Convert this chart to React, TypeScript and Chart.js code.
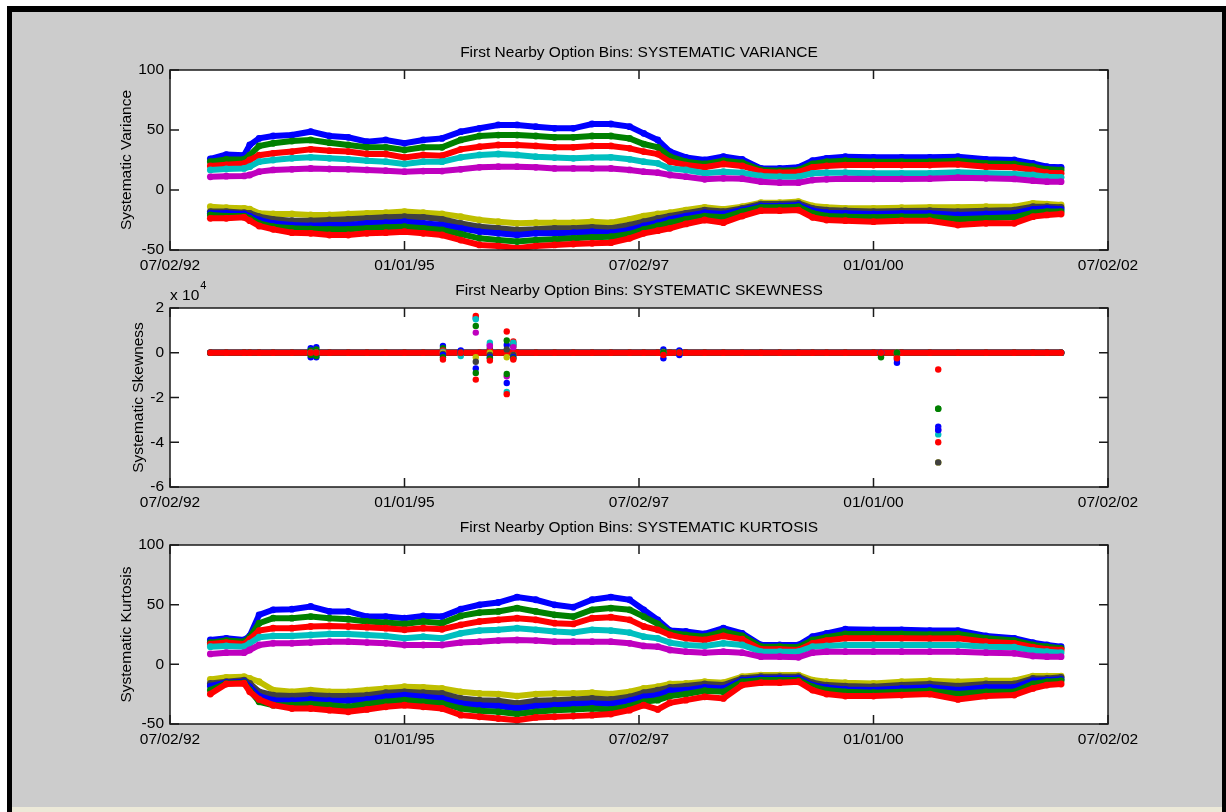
import React, { useEffect, useRef } from 'react';
import { Chart, registerables } from 'chart.js';

Chart.register(...registerables);

// ---------- data (decimal years on x) ----------
const dates = [1992.93, 1993.1, 1993.29, 1993.35, 1993.45, 1993.6, 1993.8, 1994.0, 1994.2, 1994.4, 1994.6, 1994.8, 1995.0, 1995.2, 1995.4, 1995.6, 1995.8, 1996.0, 1996.2, 1996.4, 1996.6, 1996.8, 1997.0, 1997.2, 1997.4, 1997.55, 1997.7, 1997.83, 1998.0, 1998.2, 1998.4, 1998.6, 1998.8, 1999.0, 1999.2, 1999.35, 1999.5, 1999.7, 2000.0, 2000.3, 2000.6, 2000.9, 2001.2, 2001.5, 2001.7, 2001.85, 2002.0];

const xTickValues = [1992.5, 1995, 1997.5, 2000, 2002.5];
const xTickLabels = ['07/02/92', '01/01/95', '07/02/97', '01/01/00', '07/02/02'];

const seriesColors = ['#0000ff', '#008000', '#ff0000', '#00bfbf', '#bf00bf', '#bfbf00', '#404040', '#0000ff', '#008000', '#ff0000'];

// Systematic variance
const varB = [26, 29.5, 29, 37.5, 43, 45, 45.8, 48.6, 45, 43.9, 40.3, 41.7, 38.9, 41.7, 43, 48.6, 51.4, 54.2, 54.2, 52.8, 51.4, 51.4, 55, 55, 52.8, 47.2, 41.7, 32, 27.2, 25, 27.8, 25.6, 18, 18, 18.9, 24.4, 26.4, 27.8, 27.2, 27.2, 27.2, 27.8, 25.6, 25, 22.2, 19.4, 18.9];
const varG = [23.6, 25.5, 25.5, 29, 36.7, 38.9, 40.8, 41.7, 39.4, 37.5, 35.6, 35.6, 33.3, 35.6, 35.6, 41.7, 45, 45.8, 45.8, 45, 43.9, 43.9, 45, 45, 43, 38.3, 35.6, 27.8, 23.6, 21.7, 24.4, 22.8, 16.7, 16.1, 16.7, 21.7, 23.6, 24.4, 23.6, 23.6, 23.6, 24.4, 22.2, 21.7, 19.4, 17.2, 16.7];
const varR = [20, 21, 22, 25, 29, 30.6, 32, 33.9, 32.8, 32, 30, 30, 27.2, 29.2, 28.6, 33.9, 36.1, 37.5, 37.5, 36.7, 35.6, 35.6, 36.7, 36.7, 34.7, 32, 30, 23.6, 20.8, 18.9, 21.7, 20, 15.3, 14.4, 15, 18.9, 20, 20.8, 20.8, 20.8, 20.8, 21.4, 19.4, 18.9, 16.7, 14.4, 13.9];
const varC = [16.7, 17.5, 18, 19.4, 23.6, 25, 26.4, 27.2, 26.4, 25.6, 24.4, 23.6, 21.7, 23.6, 23.6, 27.2, 29.2, 30, 29.2, 27.8, 27, 26.4, 27, 27.2, 25.6, 23.6, 22.2, 18, 16.7, 13.9, 15.3, 14.4, 11.7, 11.1, 11.1, 13.9, 14.4, 14.4, 13.9, 13.9, 13.9, 14.7, 13.9, 13.3, 12.5, 11.1, 10.6];
const varM = [11, 11.5, 11.7, 12.5, 15.3, 16.7, 17.2, 18, 17.5, 17.2, 16.7, 16.1, 15.3, 15.8, 15.8, 17.2, 18.9, 19.4, 19.4, 18.9, 18, 18, 18, 18, 16.7, 15.3, 14.4, 12.5, 11.1, 8.9, 9.7, 9.4, 6.9, 6.1, 6.1, 8.3, 8.9, 9.4, 9.2, 9.2, 9.4, 10.3, 9.7, 9.2, 7.8, 6.9, 6.9];
const varY = [-13.9, -14.7, -15.3, -16, -19.4, -20, -20, -20.8, -20.8, -20, -19.4, -18.9, -18, -18.9, -20, -22.2, -25, -26.4, -27.8, -27.2, -27.2, -27.2, -26.4, -27.2, -24.4, -21.7, -20, -18.9, -16.7, -14.4, -16.1, -13.9, -10.6, -10.6, -9.7, -13.3, -14.4, -15.3, -15.3, -14.7, -14.4, -14.4, -13.9, -13.9, -11.1, -11.7, -12.5];
const varK = [-18, -18, -18.9, -19.4, -22.2, -24.4, -25.6, -25.6, -25, -24.4, -23.6, -22.8, -22.2, -22.8, -24.4, -27.8, -30.6, -31.9, -33.3, -32.8, -31.9, -31.9, -31.1, -31.9, -29.2, -26.4, -23.6, -21.7, -19.4, -16.7, -18, -15.3, -11.7, -11.7, -11.1, -15.3, -16.7, -17.2, -18, -17.5, -17.2, -18, -17.2, -16.7, -13.9, -13.9, -14.4];
const varB2 = [-19.4, -19.4, -20, -21.7, -25, -27.8, -29.2, -29.7, -29.2, -29.2, -27.8, -27.2, -26.4, -27.8, -29.2, -31.9, -34.7, -36.1, -37.5, -36.1, -36.1, -35.6, -34.7, -35.6, -33.3, -30, -27.2, -24.4, -21.7, -18.9, -20, -16.7, -13.3, -13.3, -12.5, -17.2, -18.9, -19.4, -20, -19.4, -19.4, -20.8, -20, -19.4, -16.1, -15.3, -16.1];
const varG2 = [-20.8, -21.7, -21.7, -23.6, -27.8, -30.6, -31.9, -32.5, -32.8, -32.8, -31.9, -31.1, -30.6, -31.9, -33.3, -36.7, -40.3, -41.7, -43, -41.7, -41.1, -40.3, -39.4, -38.9, -36.7, -32.8, -30, -27.2, -24.4, -21.7, -22.8, -18, -14.4, -14.4, -13.9, -19.4, -21.7, -22.2, -22.8, -22.2, -22.2, -24.4, -23.6, -22.8, -18.9, -18, -18];
const varR2 = [-23.6, -23.6, -22.8, -25.6, -30, -32.8, -35.6, -36.1, -37.5, -37.5, -36.1, -35.6, -34.7, -36.1, -37.5, -41.7, -45.8, -46.7, -48.6, -46.7, -45.8, -45, -44.4, -43.9, -40.3, -36.1, -33.9, -31.9, -28.3, -25, -27.2, -21.7, -17.2, -17.2, -16.7, -22.8, -25, -25.6, -26.4, -25.6, -25.6, -29.2, -27.8, -27.8, -22.2, -20.8, -20];

// Systematic kurtosis
const kurB = [20.4, 21.8, 20.4, 23.8, 41.5, 45.7, 46.2, 48.5, 44.3, 44.3, 40, 40, 38.7, 40.6, 40, 46.2, 49.9, 51.8, 56.3, 54.1, 49.9, 47.9, 54.1, 56.3, 54.1, 45.7, 37.3, 28.3, 27.5, 25.5, 30.3, 26, 16.2, 16.2, 16.2, 23.2, 26, 29.4, 28.9, 28.9, 28.3, 28.3, 23.8, 21.8, 18.2, 16.2, 14.8];
const kurG = [18.2, 19.9, 19, 22.7, 34.5, 38.7, 38.7, 40, 38.7, 37.8, 35.9, 35, 33.9, 35.9, 34.5, 40.6, 43.4, 44.3, 47.1, 44.3, 41.5, 40, 45.7, 47.1, 45.7, 40, 33.9, 26.6, 24.6, 23.2, 27.5, 23.8, 14.8, 14.8, 14.3, 20.4, 22.7, 25.5, 25.5, 25.5, 24.9, 25.5, 21.8, 19.9, 16.2, 14.8, 13.4];
const kurR = [17, 18.2, 17, 21, 28.3, 30.3, 30.3, 31.7, 32.2, 31.7, 31.1, 30.3, 28.9, 30.3, 29.4, 33.1, 35.9, 37.3, 38.7, 37.3, 34.5, 33.9, 38.7, 39.5, 37.3, 31.7, 28.9, 24.6, 21.8, 20.4, 23.8, 21, 12.6, 12.6, 12, 17.6, 19.9, 21.8, 21.8, 21.8, 21.6, 21.8, 19, 17.6, 14.3, 12.6, 12];
const kurC = [14.8, 15.4, 14.8, 17.6, 22.7, 23.8, 23.8, 24.6, 25.5, 25.5, 24.6, 23.8, 21.8, 23.2, 21.8, 26, 28.3, 28.9, 30.3, 28.9, 27.5, 26.6, 28.9, 28.3, 26.6, 23.2, 21.8, 18.2, 16.2, 15.4, 17.6, 16.2, 10.6, 10.6, 10.6, 14.8, 15.4, 16.2, 16.2, 16.2, 16.2, 16.2, 14.8, 14.3, 11.5, 10.6, 9.8];
const kurM = [8.7, 9.8, 9.8, 12, 16.2, 17.6, 17.6, 18.2, 19, 19, 18.2, 17.6, 16.2, 16.2, 16.2, 18.2, 19, 19.9, 20.4, 19.9, 19, 19, 19, 19, 17.6, 15.4, 14.8, 12, 10.6, 9.8, 10.6, 9.8, 6.4, 6.4, 5.9, 9.8, 10.6, 10.6, 10.6, 10.6, 10.6, 10.6, 9.8, 9.2, 7, 6.4, 6.4];
const kurY = [-12.6, -10.9, -10.4, -11.8, -14.6, -21.6, -23, -21.6, -23, -23, -21.6, -20.2, -18.8, -19.3, -20.2, -23, -24.4, -24.9, -26.6, -24.9, -24.4, -24.4, -23.8, -24.9, -23, -20.2, -18.8, -16.5, -16, -14.6, -15.4, -10.4, -9, -9, -9, -13.2, -14.6, -15.4, -16, -14.6, -13.7, -14.6, -13.7, -13.7, -9.8, -9.8, -9.8];
const kurK = [-16, -14.6, -13.2, -16, -23, -25.8, -26.6, -25.8, -26.6, -26.6, -25.8, -23.8, -23, -23.8, -24.4, -28.6, -30, -30.5, -32.8, -30.5, -30, -29.4, -28.6, -29.4, -27.2, -23.8, -21.6, -19.3, -18.2, -16.5, -17.4, -11.8, -10.4, -10.4, -10.4, -15.4, -17.4, -18.2, -18.8, -17.4, -16.5, -18.2, -16.5, -16.5, -11.8, -11.8, -10.9];
const kurB2 = [-18.2, -15.4, -14.6, -18.8, -26.6, -30, -30.5, -29.4, -30.5, -30.5, -29.4, -27.2, -25.8, -27.2, -28.6, -32.8, -34.2, -35, -37, -35, -34.2, -33.3, -32.8, -33.3, -30.5, -27.2, -25.8, -22.1, -21.6, -19.3, -20.2, -13.2, -11.8, -11.8, -11.8, -17.4, -19.3, -21, -21.6, -20.2, -19.3, -21.6, -19.3, -19.3, -13.7, -13.2, -12.6];
const kurG2 = [-21.6, -16, -15.4, -21.6, -31.4, -34.2, -34.2, -33.3, -34.2, -35.6, -33.3, -31.4, -30, -31.4, -32.8, -37, -38.9, -39.8, -41.7, -39.8, -38.4, -37.8, -37, -37.8, -35, -31.4, -30, -26.6, -24.9, -22.1, -23, -14.6, -13.2, -13.2, -13.2, -18.8, -21.6, -23, -23.8, -23, -22.1, -24.9, -23, -23, -16.5, -14.6, -13.7];
const kurR2 = [-24.9, -16.5, -16, -23, -29.4, -34.2, -37, -37, -38.4, -39.8, -37.8, -35.6, -34.2, -35.6, -37, -42.6, -44, -45.4, -46.8, -44.5, -44, -43.4, -42.6, -41.7, -38.4, -34.2, -37.8, -32.2, -30, -27.2, -28.6, -17.4, -15.4, -15.4, -14.6, -21.6, -24.9, -26.6, -26.6, -25.8, -24.9, -29.4, -26.6, -25.8, -20.2, -17.4, -16.5];

// Systematic skewness: level on the common dates, plus spikes on a few dates
const skewLevel = [0, 0, 0, 0, 0, 0, 0, 0, 0, 0, 0, 0, 0, 0, 0, 0, 0, 0, 0, 0, 0, 0, 0, 0, 0, 0, 0, 0, 0, 0, 0, 0, 0, 0, 0, 0, 0, 0, 0, 0, 0, 0, 0, 0, 0, 0, 0];
const skewSpikeDates = [1994.0, 1994.06, 1995.41, 1995.6, 1995.76, 1995.91, 1996.09, 1996.16, 1997.76, 1997.93, 2000.08, 2000.25, 2000.69];
const skB = [2000, 2500, 3000, 1000, 15500, 3500, 3500, 4000, 1500, 1000, 0, -3000, -33000];
const skG = [1000, 1500, 2000, 0, 12000, 2000, 5500, 3000, 500, 0, -1000, -1500, -25000];
const skR = [0, 0, 1000, 0, 16500, 1000, 9500, 5000, 0, 0, 0, -2000, -7500];
const skC = [0, 0, 500, -1500, 15000, 4500, -17500, 4500, 0, 0, 0, 0, -36500];
const skM = [0, 0, 0, 0, 9000, 3000, -10500, 2500, 0, 0, 0, 0, -34500];
const skY = [0, 0, 0, 0, -2000, 0, -2000, -1000, 0, 0, 0, 0, -49000];
const skK = [0, 0, -500, 0, -4000, -1000, 1500, -1000, 0, 0, 0, 0, -49000];
const skB2 = [-2000, -2000, -1000, 0, -7000, -2000, -13500, -2000, -2500, -1000, 0, -4500, -34500];
const skG2 = [-1000, -1500, -2000, 0, -9000, -2500, -9500, -2500, 0, 0, -2000, 0, -25000];
const skR2 = [0, 0, -3000, 0, -12000, -3500, -18500, -3000, -1000, 0, 0, -2500, -40000];

const varianceSeries = [varB, varG, varR, varC, varM, varY, varK, varB2, varG2, varR2];
const kurtosisSeries = [kurB, kurG, kurR, kurC, kurM, kurY, kurK, kurB2, kurG2, kurR2];
const skewSpikes = [skB, skG, skR, skC, skM, skY, skK, skB2, skG2, skR2];

// ---------- styling ----------
const FONT = "'Liberation Sans', Arial, Helvetica, sans-serif";
const FS = 15.5;
const CANVAS_W = 1210;

Chart.defaults.font.family = FONT;
Chart.defaults.font.size = FS;
Chart.defaults.color = '#000';

const matlabAxes = {
  id: 'matlabAxes',
  beforeDraw(chart: any) {
    const { ctx, chartArea: a } = chart;
    ctx.save();
    ctx.fillStyle = '#ffffff';
    ctx.fillRect(a.left, a.top, a.right - a.left, a.bottom - a.top);
    ctx.restore();
  },
  afterDatasetsDraw(chart: any) {
    const { ctx, chartArea: a, scales } = chart;
    const TL = 9;
    ctx.save();
    ctx.strokeStyle = '#1a1a1a';
    ctx.lineWidth = 1.5;
    ctx.strokeRect(a.left, a.top, a.right - a.left, a.bottom - a.top);
    ctx.beginPath();
    scales.x.ticks.forEach((t: any) => {
      const px = scales.x.getPixelForValue(t.value);
      ctx.moveTo(px, a.bottom);
      ctx.lineTo(px, a.bottom - TL);
      ctx.moveTo(px, a.top);
      ctx.lineTo(px, a.top + TL);
    });
    scales.y.ticks.forEach((t: any) => {
      const py = scales.y.getPixelForValue(t.value);
      ctx.moveTo(a.left, py);
      ctx.lineTo(a.left + TL, py);
      ctx.moveTo(a.right, py);
      ctx.lineTo(a.right - TL, py);
    });
    ctx.stroke();
    ctx.restore();
  },
  afterDraw(chart: any, _args: any, opts: any) {
    const { ctx, chartArea: a } = chart;
    ctx.save();
    ctx.fillStyle = '#000';
    ctx.font = `${FS}px ${FONT}`;
    ctx.textAlign = 'center';
    ctx.textBaseline = 'middle';
    if (opts.title) ctx.fillText(opts.title, (a.left + a.right) / 2, a.top - 17);
    if (opts.exponent) {
      ctx.textAlign = 'left';
      ctx.textBaseline = 'alphabetic';
      const base = 'x 10';
      ctx.fillText(base, a.left, a.top - 8);
      const w = ctx.measureText(base).width;
      ctx.font = `11px ${FONT}`;
      ctx.fillText(opts.exponent, a.left + w + 1, a.top - 19);
    }
    ctx.restore();
  },
};

function xScale() {
  return {
    type: 'linear',
    min: xTickValues[0],
    max: xTickValues[xTickValues.length - 1],
    afterBuildTicks: (s: any) => {
      s.ticks = xTickValues.map((v) => ({ value: v }));
    },
    afterFit: (s: any) => {
      s.height = 25;
    },
    ticks: {
      autoSkip: false,
      maxRotation: 0,
      padding: 6,
      callback: (v: number) => {
        const i = xTickValues.findIndex((t) => Math.abs(t - v) < 1e-6);
        return i >= 0 ? xTickLabels[i] : '';
      },
    },
    grid: { display: false, drawTicks: false },
    border: { display: false },
  };
}

function yScale(title: string, min: number, max: number, step: number, titlePad: number, div = 1) {
  return {
    type: 'linear',
    min,
    max,
    afterFit: (s: any) => {
      s.width = 53;
    },
    ticks: {
      stepSize: step,
      padding: 6,
      callback: (v: number) => String(Math.round(v / div)),
    },
    title: { display: true, text: title, padding: { top: titlePad, bottom: 0 }, font: { size: FS } },
    grid: { display: false, drawTicks: false },
    border: { display: false },
  };
}

function bandDatasets(series: number[][]) {
  return series.map((vals, i) => ({
    data: dates.map((d, j) => ({ x: d, y: vals[j] })),
    borderColor: seriesColors[i],
    backgroundColor: seriesColors[i],
    borderWidth: 6,
    pointRadius: 3.4,
    pointHoverRadius: 3.4,
    pointBorderWidth: 0,
    showLine: true,
    tension: 0,
    order: -i,
  }));
}

function skewDatasets() {
  const base = seriesColors.map((c, i) => ({
    data: dates.map((d, j) => ({ x: d, y: skewLevel[j] })),
    borderColor: c,
    backgroundColor: c,
    borderWidth: 6,
    pointRadius: 3.2,
    pointBorderWidth: 0,
    showLine: true,
    order: -i,
  }));
  const spikes = seriesColors.map((c, i) => ({
    data: skewSpikeDates.map((d, j) => ({ x: d, y: skewSpikes[i][j] })),
    borderColor: c,
    backgroundColor: c,
    pointRadius: 3.2,
    pointBorderWidth: 0,
    showLine: false,
    order: -100 - i,
  }));
  return [...base, ...spikes];
}

function makeConfig(datasets: any[], y: any, padTop: number, pluginOpts: any) {
  return {
    type: 'scatter',
    data: { datasets },
    options: {
      animation: false,
      responsive: false,
      devicePixelRatio: 1,
      events: [],
      layout: { padding: { left: 105, right: 114, top: padTop, bottom: 5 } },
      scales: { x: xScale(), y },
      plugins: {
        legend: { display: false },
        tooltip: { enabled: false },
        matlabAxes: pluginOpts,
      },
    },
    plugins: [matlabAxes],
  };
}

function Panel({ top, height, build }: { top: number; height: number; build: () => any }) {
  const ref = useRef<HTMLCanvasElement>(null);
  useEffect(() => {
    const chart = new Chart(ref.current as HTMLCanvasElement, build());
    return () => chart.destroy();
  }, []);
  return (
    <canvas
      ref={ref}
      width={CANVAS_W}
      height={height}
      style={{ position: 'absolute', left: 12, top, width: CANVAS_W, height, display: 'block' }}
    />
  );
}

export default function App() {
  return (
    <div style={{ position: 'fixed', left: 0, top: 0, width: 1226, height: 812, background: '#ffffff', overflow: 'hidden' }}>
      <div style={{ position: 'absolute', left: 7, top: 6, width: 1219, height: 806, background: '#000' }} />
      <div style={{ position: 'absolute', left: 12, top: 12, width: 1210, height: 795, background: '#cccccc' }} />
      <div style={{ position: 'absolute', left: 12, top: 807, width: 1210, height: 5, background: '#ece9d8' }} />
      <Panel
        top={30}
        height={250}
        build={() =>
          makeConfig(bandDatasets(varianceSeries), yScale('Systematic Variance', -50, 100, 50, 0), 40, {
            title: 'First Nearby Option Bins: SYSTEMATIC VARIANCE',
          })
        }
      />
      <Panel
        top={280}
        height={237}
        build={() =>
          makeConfig(skewDatasets(), yScale('Systematic Skewness', -60000, 20000, 20000, 12, 10000), 28, {
            title: 'First Nearby Option Bins: SYSTEMATIC SKEWNESS',
            exponent: '4',
          })
        }
      />
      <Panel
        top={517}
        height={237}
        build={() =>
          makeConfig(bandDatasets(kurtosisSeries), yScale('Systematic Kurtosis', -50, 100, 50, 0), 28, {
            title: 'First Nearby Option Bins: SYSTEMATIC KURTOSIS',
          })
        }
      />
    </div>
  );
}
